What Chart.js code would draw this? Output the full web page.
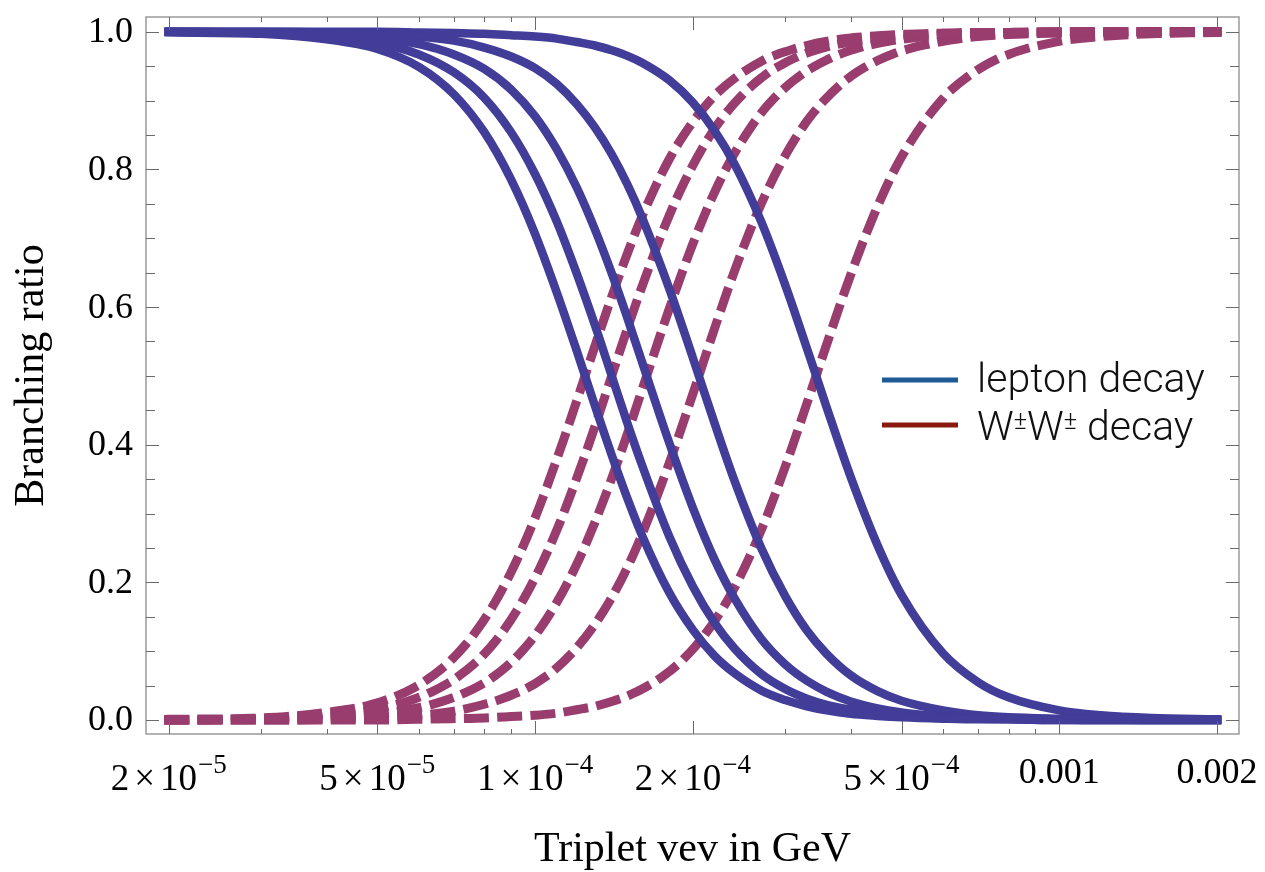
<!DOCTYPE html>
<html>
<head>
<meta charset="utf-8">
<title>Branching ratio vs triplet vev</title>
<script src="https://cdn.jsdelivr.net/npm/chart.js@4.4.1/dist/chart.umd.min.js"></script>
<style>
  html, body { margin: 0; padding: 0; background: #fff; }
  #wrap { width: 1265px; height: 872px; }
</style>
</head>
<body>
<div id="wrap"><canvas id="brChart" width="1265" height="872"></canvas></div>
<script>
// triplet vev grid (GeV)
const vev = [2e-5, 3e-5, 4e-5, 5e-5, 6e-5, 7e-5, 8e-5, 9e-5, 1e-4, 1.1e-4, 1.2e-4,
  1.3e-4, 1.4e-4, 1.5e-4, 1.6e-4, 1.8e-4, 2e-4, 2.2e-4, 2.4e-4, 2.7e-4, 3e-4, 3.3e-4,
  3.6e-4, 4e-4, 4.5e-4, 5e-4, 6e-4, 7e-4, 8e-4, 1e-3, 1.2e-3, 1.5e-3, 2e-3];

// lepton decay branching ratios, one curve per triplet mass
const lepton1 = [0.999, 0.997, 0.989, 0.975, 0.949, 0.909, 0.854, 0.785, 0.706, 0.621, 0.537,
  0.457, 0.385, 0.322, 0.268, 0.186, 0.131, 0.093, 0.068, 0.043, 0.029, 0.020,
  0.014, 0.009, 0.006, 0.004, 0.002, 0.001, 0.001, 0, 0, 0, 0];
const lepton2 = [1.000, 0.998, 0.993, 0.984, 0.967, 0.941, 0.904, 0.854, 0.793, 0.724, 0.649,
  0.574, 0.500, 0.431, 0.370, 0.268, 0.194, 0.141, 0.104, 0.067, 0.045, 0.031,
  0.022, 0.015, 0.009, 0.006, 0.003, 0.002, 0.001, 0, 0, 0, 0];
const lepton3 = [1.000, 0.999, 0.996, 0.991, 0.982, 0.967, 0.946, 0.916, 0.877, 0.829, 0.774,
  0.713, 0.649, 0.584, 0.520, 0.404, 0.308, 0.233, 0.177, 0.118, 0.081, 0.057,
  0.041, 0.027, 0.017, 0.011, 0.005, 0.003, 0.002, 0.001, 0, 0, 0];
const lepton4 = [1.000, 1.000, 0.999, 0.996, 0.993, 0.987, 0.977, 0.964, 0.947, 0.924, 0.895,
  0.861, 0.822, 0.778, 0.730, 0.628, 0.526, 0.431, 0.348, 0.250, 0.180, 0.130,
  0.096, 0.065, 0.042, 0.028, 0.014, 0.007, 0.004, 0.002, 0.001, 0, 0];
const lepton5 = [1.000, 1.000, 1.000, 1.000, 0.999, 0.998, 0.997, 0.995, 0.993, 0.990, 0.985,
  0.980, 0.973, 0.965, 0.955, 0.930, 0.897, 0.856, 0.808, 0.724, 0.632, 0.540,
  0.454, 0.353, 0.254, 0.182, 0.097, 0.055, 0.033, 0.014, 0.007, 0.003, 0.001];

// W±W± decay branching ratios, same masses
const ww1 = [0.001, 0.003, 0.011, 0.025, 0.051, 0.091, 0.146, 0.215, 0.294, 0.379, 0.463,
  0.543, 0.615, 0.678, 0.732, 0.814, 0.869, 0.907, 0.932, 0.957, 0.971, 0.980,
  0.986, 0.991, 0.994, 0.996, 0.998, 0.999, 0.999, 1, 1, 1, 1];
const ww2 = [0, 0.002, 0.007, 0.016, 0.033, 0.059, 0.096, 0.146, 0.207, 0.276, 0.351,
  0.426, 0.500, 0.569, 0.630, 0.732, 0.806, 0.859, 0.896, 0.933, 0.955, 0.969,
  0.978, 0.985, 0.991, 0.994, 0.997, 0.998, 0.999, 1, 1, 1, 1];
const ww3 = [0, 0.001, 0.004, 0.009, 0.018, 0.033, 0.054, 0.084, 0.123, 0.171, 0.226,
  0.287, 0.351, 0.416, 0.480, 0.596, 0.692, 0.767, 0.823, 0.882, 0.919, 0.943,
  0.959, 0.973, 0.983, 0.989, 0.995, 0.997, 0.998, 0.999, 1, 1, 1];
const ww4 = [0, 0, 0.001, 0.004, 0.007, 0.013, 0.023, 0.036, 0.053, 0.076, 0.105,
  0.139, 0.178, 0.222, 0.270, 0.372, 0.474, 0.569, 0.652, 0.750, 0.820, 0.870,
  0.904, 0.935, 0.958, 0.972, 0.986, 0.993, 0.996, 0.998, 0.999, 1, 1];
const ww5 = [0, 0, 0, 0, 0.001, 0.002, 0.003, 0.005, 0.007, 0.010, 0.015,
  0.020, 0.027, 0.035, 0.045, 0.070, 0.103, 0.144, 0.192, 0.276, 0.368, 0.460,
  0.546, 0.647, 0.746, 0.818, 0.903, 0.945, 0.967, 0.986, 0.993, 0.997, 0.999];

// axis ticks
const xMajorTicks = [2e-5, 5e-5, 1e-4, 2e-4, 5e-4, 1e-3, 2e-3];
const xTickLabels = ['2×10^−5', '5×10^−5', '1×10^−4', '2×10^−4', '5×10^−4', '0.001', '0.002'];
const xMinorTicks = [3e-5, 4e-5, 6e-5, 7e-5, 8e-5, 9e-5, 3e-4, 4e-4, 6e-4, 7e-4, 8e-4, 9e-4];
const yMajorTicks = [0, 0.2, 0.4, 0.6, 0.8, 1.0];
const yTickLabels = ['0.0', '0.2', '0.4', '0.6', '0.8', '1.0'];
const yMinorTicks = [0.05, 0.1, 0.15, 0.25, 0.3, 0.35, 0.45, 0.5, 0.55, 0.65, 0.7, 0.75, 0.85, 0.9, 0.95];

const legendLabels = ['lepton decay', 'W±W± decay'];

const CURVE_BLUE = '#413d99';
const CURVE_MAGENTA = '#993c6e';
const KEY_BLUE = '#1f5a94';
const KEY_RED = '#8b1a0e';
const SERIF = '"Liberation Serif", "Times New Roman", serif';
const SANS = 'Roboto, "Liberation Sans", sans-serif';

function points(series) {
  return vev.map((v, i) => ({ x: v, y: series[i] }));
}

function tickList(major, minor) {
  return major.map(v => ({ value: v, major: true }))
    .concat(minor.map(v => ({ value: v, major: false })));
}

const leptonSets = [lepton1, lepton2, lepton3, lepton4, lepton5].map(s => ({
  label: 'lepton decay',
  data: points(s),
  borderColor: CURVE_BLUE,
  borderWidth: 8.5,
  borderCapStyle: 'square',
  borderJoinStyle: 'round',
  pointRadius: 0,
  cubicInterpolationMode: 'monotone',
}));

const wwSets = [ww1, ww2, ww3, ww4, ww5].map(s => ({
  label: 'W±W± decay',
  data: points(s),
  borderColor: CURVE_MAGENTA,
  borderWidth: 9,
  borderDash: [16, 17.3],
  borderCapStyle: 'square',
  pointRadius: 0,
  cubicInterpolationMode: 'monotone',
}));

// frame, inward ticks on all four sides, tick labels and the key
const axisDecor = {
  id: 'axisDecor',
  afterDraw(chart) {
    const { ctx, chartArea: a, scales: { x, y } } = chart;
    ctx.save();

    ctx.strokeStyle = '#9a9a9a';
    ctx.lineWidth = 1.5;
    ctx.strokeRect(a.left, a.top, a.right - a.left, a.bottom - a.top);

    ctx.strokeStyle = '#6a6a6a';
    ctx.lineWidth = 1;
    ctx.beginPath();
    x.ticks.forEach(t => {
      const px = Math.round(x.getPixelForValue(t.value)) + 0.5;
      const len = t.major ? 13 : 5;
      ctx.moveTo(px, a.bottom); ctx.lineTo(px, a.bottom - len);
      ctx.moveTo(px, a.top); ctx.lineTo(px, a.top + len);
    });
    y.ticks.forEach(t => {
      const py = Math.round(y.getPixelForValue(t.value)) + 0.5;
      const len = t.major ? 13 : 9;
      ctx.moveTo(a.left, py); ctx.lineTo(a.left + len, py);
      ctx.moveTo(a.right, py); ctx.lineTo(a.right - len, py);
    });
    ctx.stroke();

    ctx.fillStyle = '#000';

    // y tick labels
    ctx.font = '36px ' + SERIF;
    ctx.textAlign = 'right';
    ctx.textBaseline = 'middle';
    yMajorTicks.forEach((v, i) => {
      ctx.fillText(yTickLabels[i], a.left - 13, y.getPixelForValue(v) + 1);
    });

    // x tick labels, powers of ten with a raised exponent
    ctx.textBaseline = 'alphabetic';
    ctx.textAlign = 'left';
    xMajorTicks.forEach((v, i) => {
      const cx = x.getPixelForValue(v);
      const label = xTickLabels[i];
      if (label.indexOf('^') < 0) {
        ctx.font = '36px ' + SERIF;
        const w = ctx.measureText(label).width;
        ctx.fillText(label, cx - w / 2, 783);
        return;
      }
      const [base, exp] = label.split('^');
      const [mant, ten] = base.split('×');
      ctx.font = '37px ' + SERIF;
      const wm = ctx.measureText(mant).width;
      const wx = ctx.measureText('×').width;
      const wt = ctx.measureText(ten).width;
      ctx.font = '27px ' + SERIF;
      const we = ctx.measureText(exp).width;
      const gap = 5;
      const total = wm + gap + wx + gap + wt + 1 + we;
      let px = cx - total / 2;
      ctx.font = '37px ' + SERIF;
      ctx.fillText(mant, px, 790); px += wm + gap;
      ctx.fillText('×', px, 790); px += wx + gap;
      ctx.fillText(ten, px, 790); px += wt + 1;
      ctx.font = '27px ' + SERIF;
      ctx.fillText(exp, px, 773);
    });

    // key
    const keyColors = [KEY_BLUE, KEY_RED];
    const keyLineY = [380, 425];
    const keyTextY = [392, 440];
    ctx.lineWidth = 5;
    keyColors.forEach((c, i) => {
      ctx.strokeStyle = c;
      ctx.beginPath();
      ctx.moveTo(882, keyLineY[i]);
      ctx.lineTo(958, keyLineY[i]);
      ctx.stroke();
    });
    ctx.fillStyle = '#111';
    ctx.font = '300 41px ' + SANS;
    ctx.fillText(legendLabels[0], 977, keyTextY[0]);

    // W±W± with small raised ± signs
    let kx = 977;
    legendLabels[1].split(/(±)/).filter(s => s.length).forEach(part => {
      if (part === '±') {
        ctx.font = '300 25px ' + SANS;
        ctx.fillText(part, kx, keyTextY[1] - 11);
      } else {
        ctx.font = '300 41px ' + SANS;
        ctx.fillText(part, kx, keyTextY[1]);
      }
      kx += ctx.measureText(part).width;
    });

    ctx.restore();
  }
};

new Chart(document.getElementById('brChart'), {
  type: 'line',
  data: { datasets: leptonSets.concat(wwSets) },
  options: {
    responsive: false,
    animation: false,
    devicePixelRatio: 1,
    layout: { padding: { left: 0, top: 17, right: 26, bottom: 0 } },
    plugins: { legend: { display: false }, tooltip: { enabled: false } },
    scales: {
      x: {
        type: 'logarithmic',
        min: 1.81e-5,
        max: 2.202e-3,
        afterBuildTicks: s => { s.ticks = tickList(xMajorTicks, xMinorTicks); },
        afterFit: s => { s.height = 138; },
        ticks: { display: false },
        grid: { display: false },
        border: { display: false },
        title: {
          display: true,
          text: 'Triplet vev in GeV',
          color: '#000',
          font: { family: SERIF, size: 42, lineHeight: 1 },
          padding: { top: 0, bottom: 1 },
        },
      },
      y: {
        type: 'linear',
        min: -0.0203,
        max: 1.0214,
        afterBuildTicks: s => { s.ticks = tickList(yMajorTicks, yMinorTicks); },
        afterFit: s => { s.width = 146; },
        ticks: { display: false },
        grid: { display: false },
        border: { display: false },
        title: {
          display: true,
          text: 'Branching ratio',
          color: '#000',
          font: { family: SERIF, size: 42, lineHeight: 1 },
          padding: { top: 11, bottom: 0 },
        },
      },
    },
  },
  plugins: [axisDecor],
});
</script>
</body>
</html>
